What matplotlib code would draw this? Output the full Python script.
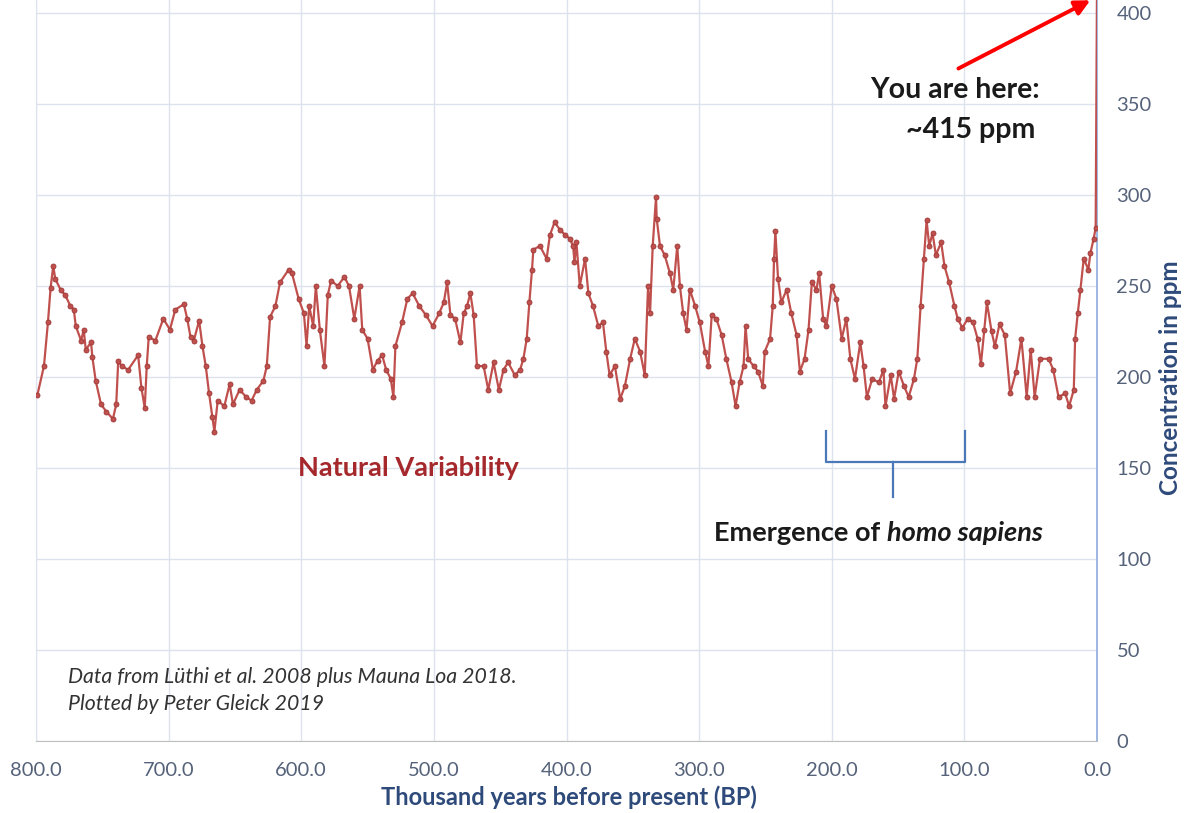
import matplotlib
matplotlib.use("Agg")
import matplotlib.pyplot as plt

# ---------------- data (thousand years BP, CO2 ppm) ----------------
ages = [799, 794, 791, 789, 787, 785.5, 781.5, 778, 774, 771.5, 770, 766, 764, 762.5, 758.5, 757.5, 755, 751,
        747, 742, 739.5, 738, 735.5, 730.5, 723, 720.5, 718, 716.5, 715, 710, 704, 699, 695, 688.5, 686, 683.5,
        681, 677, 674.5, 672, 669.5, 667, 665.5, 663, 658, 654, 651.5, 646.5, 641.5, 637.5, 633.5, 628.5, 626,
        623.5, 619.5, 616, 609.5, 607, 602, 598,
        596, 594, 591, 589, 586, 582.5, 580, 577.5, 572.5, 567.5, 564, 560, 556, 554, 550, 546, 542.5, 539, 536,
        532.5, 530.5, 529, 524, 520, 516, 511, 506, 501, 496, 492.5, 490, 487.5, 484, 480, 477.5, 475, 472.5, 470,
        467.5, 462.5, 459, 455, 451, 447.5, 444, 439, 435, 432.5, 430, 428, 426, 425, 420, 415, 412.5, 409, 405,
        401, 397.5, 395,
        394, 392.5, 390, 386, 383.5, 380, 376, 372.5, 370, 367.5, 363.5, 359.5, 356, 352, 348.5, 344.5, 341,
        338.5, 337, 335, 332.5, 332, 329.5, 326, 322, 319.5, 316.5, 314.5, 312, 309.5, 307, 303, 299.5, 295.5,
        293, 290.5, 287, 283, 279.5, 275.5, 272.5, 269.5, 266.5, 265, 263, 259, 255.5, 252, 250.5, 246.5, 244.5,
        243.5, 242.5, 240.5, 238, 234, 230.5, 226.5, 224, 220.5, 217.5, 215, 211.5, 209.5, 206.5, 204, 200,
        196.5, 192.5, 189,
        186, 182.5, 178.5, 176, 173.5, 169.5, 164.5, 161, 159.5, 155.5, 153, 149.5, 145.5, 142, 138, 135.5, 133,
        130.5, 128.5, 126.5, 124, 121.5, 117.5, 115, 111.5, 107.5, 105, 101.5, 97.5, 93.5, 90, 87.5, 85, 83,
        79.5, 77, 73.5, 69.5, 65.5, 61, 57, 53, 50, 47, 43, 36.5, 33, 29, 24, 21, 17.5, 16.5, 14.5, 12.5, 10,
        6.5, 5, 2.5, 1, 0]
co2 = [190, 206, 230, 249, 261, 254, 248, 245, 239, 237, 228, 220, 226, 215, 219, 211, 198, 185,
       181, 177, 185, 209, 206, 204, 212, 194, 183, 206, 222, 220, 232, 226, 237, 240, 232, 222,
       220, 231, 217, 206, 191, 178, 170, 187, 184, 196, 185, 193, 189, 187, 193, 198, 206,
       233, 239, 252, 259, 257, 243, 235,
       217, 239, 228, 250, 226, 206, 245, 253, 250, 255, 250, 232, 250, 226, 221, 204, 209, 212, 204,
       199, 189, 217, 230, 243, 246, 239, 234, 228, 235, 241, 252, 234, 232, 219, 235, 239, 246, 234,
       206, 206, 193, 208, 193, 204, 208, 201, 204, 210, 221, 241, 259, 270, 272, 265, 278, 285, 281,
       278, 276, 272,
       263, 274, 250, 265, 246, 239, 228, 230, 214, 201, 206, 188, 195, 210, 221, 214, 201,
       250, 235, 272, 299, 287, 272, 267, 257, 248, 272, 250, 235, 226, 248, 239, 230, 214,
       206, 234, 232, 223, 210, 197, 184, 197, 206, 228, 210, 206, 203, 195, 214, 221, 239,
       265, 280, 254, 241, 248, 235, 223, 203, 210, 226, 252, 248, 257, 232, 228, 250,
       243, 221, 232,
       210, 199, 219, 206, 189, 199, 197, 204, 184, 201, 188, 203, 195, 189, 199, 210, 239,
       265, 286, 272, 279, 267, 274, 261, 252, 239, 232, 227, 232, 230, 221, 207, 226, 241,
       225, 217, 229, 223, 191, 203, 221, 189, 215, 189, 210, 210, 204, 189, 191, 184, 193, 221, 235, 248, 265,
       259, 268, 276, 282, 415]

x_ticks = [800, 700, 600, 500, 400, 300, 200, 100, 0]
x_tick_labels = ["800.0", "700.0", "600.0", "500.0", "400.0", "300.0", "200.0", "100.0", "0.0"]
y_ticks = [0, 50, 100, 150, 200, 250, 300, 350, 400]

# ---------------- figure ----------------
W, H = 1184, 813
fig = plt.figure(figsize=(W / 100, H / 100), dpi=100)
ax = fig.add_axes([36 / W, 1 - 741 / H, (1097 - 36) / W, 741 / H])
ax.set_xlim(800, 0)
ax.set_ylim(0, 741 / 1.82)

FONT = "Lato"
tick_color = "#55627A"
blue_lab = "#2E4A7A"

ax.grid(True, color="#DCE3EF", linewidth=1.0)
ax.set_axisbelow(True)
ax.set_xticks(x_ticks)
ax.set_xticklabels(x_tick_labels)
ax.set_yticks(y_ticks)
ax.yaxis.tick_right()
ax.tick_params(axis="both", length=0, labelcolor=tick_color, labelsize=14.5)
ax.tick_params(axis="x", pad=15)
ax.tick_params(axis="y", pad=14)
for lab in ax.get_xticklabels() + ax.get_yticklabels():
    lab.set_fontfamily(FONT)

ax.spines["top"].set_visible(False)
ax.spines["left"].set_color("#DCE3EF")
ax.spines["bottom"].set_color("#BFBFBF")
ax.spines["right"].set_color("#8FAADC")
ax.spines["right"].set_linewidth(1.2)

ax.plot(ages, co2, color="#C0504D", linewidth=1.6, marker="o", markersize=3.6,
        markerfacecolor="#C0504D", markeredgecolor="#9E3A38", markeredgewidth=0.6, zorder=3)

# axis labels
fig.text(569 / W, 1 - 797 / H, "Thousand years before present (BP)", ha="center", va="center",
         fontsize=17, fontweight="bold", color=blue_lab, family=FONT)
fig.text(1171 / W, 1 - 378 / H, "Concentration in ppm", ha="center", va="center", rotation=90,
         fontsize=17.5, fontweight="bold", color=blue_lab, family=FONT)

# annotations
ax.annotate("", xy=(5, 407), xytext=(104.5, 369.5), annotation_clip=False,
            arrowprops=dict(arrowstyle="-|>,head_length=0.9,head_width=0.45", color="#FF0000", lw=2.8,
                            shrinkA=0, shrinkB=0))
fig.text(1040 / W, 1 - 90 / H, "You are here:", ha="right", va="center", fontsize=20.5,
         fontweight="bold", color="#1A1A1A", family=FONT)
fig.text(1035 / W, 1 - 130 / H, "~415 ppm", ha="right", va="center", fontsize=20.5,
         fontweight="bold", color="#1A1A1A", family=FONT)

fig.text(408 / W, 1 - 468 / H, "Natural Variability", ha="center", va="center", fontsize=19.5,
         fontweight="bold", color="#A5282C", family=FONT)

# bracket for homo sapiens
def px2data(px, py):
    return 800 - (px - 36) / 1.32625, (741 - py) / 1.82

bc = "#4A78B8"
pts = [px2data(826, 431), px2data(826, 462), px2data(965, 462), px2data(965, 431)]
ax.plot([p[0] for p in pts], [p[1] for p in pts], color=bc, lw=1.6, solid_joinstyle="round")
s0, s1 = px2data(893, 462), px2data(893, 497)
ax.plot([s0[0], s1[0]], [s0[1], s1[1]], color=bc, lw=1.6)

t1 = fig.text(714 / W, 1 - 533 / H, "Emergence of ", ha="left", va="center", fontsize=19.5,
              fontweight="bold", color="#1A1A1A", family=FONT)
fig.canvas.draw()
bb = t1.get_window_extent()
fig.text(bb.x1 / W, 1 - 533 / H, "homo sapiens", ha="left", va="center", fontsize=19.5,
         fontweight="bold", fontstyle="italic", color="#1A1A1A", family=FONT)

fig.text(68 / W, 1 - 677 / H, "Data from Lüthi et al. 2008 plus Mauna Loa 2018.", ha="left", va="center",
         fontsize=15.3, fontstyle="italic", color="#333333", family=FONT)
fig.text(68 / W, 1 - 704 / H, "Plotted by Peter Gleick 2019", ha="left", va="center",
         fontsize=15.3, fontstyle="italic", color="#333333", family=FONT)

fig.savefig("out.png", dpi=100)
